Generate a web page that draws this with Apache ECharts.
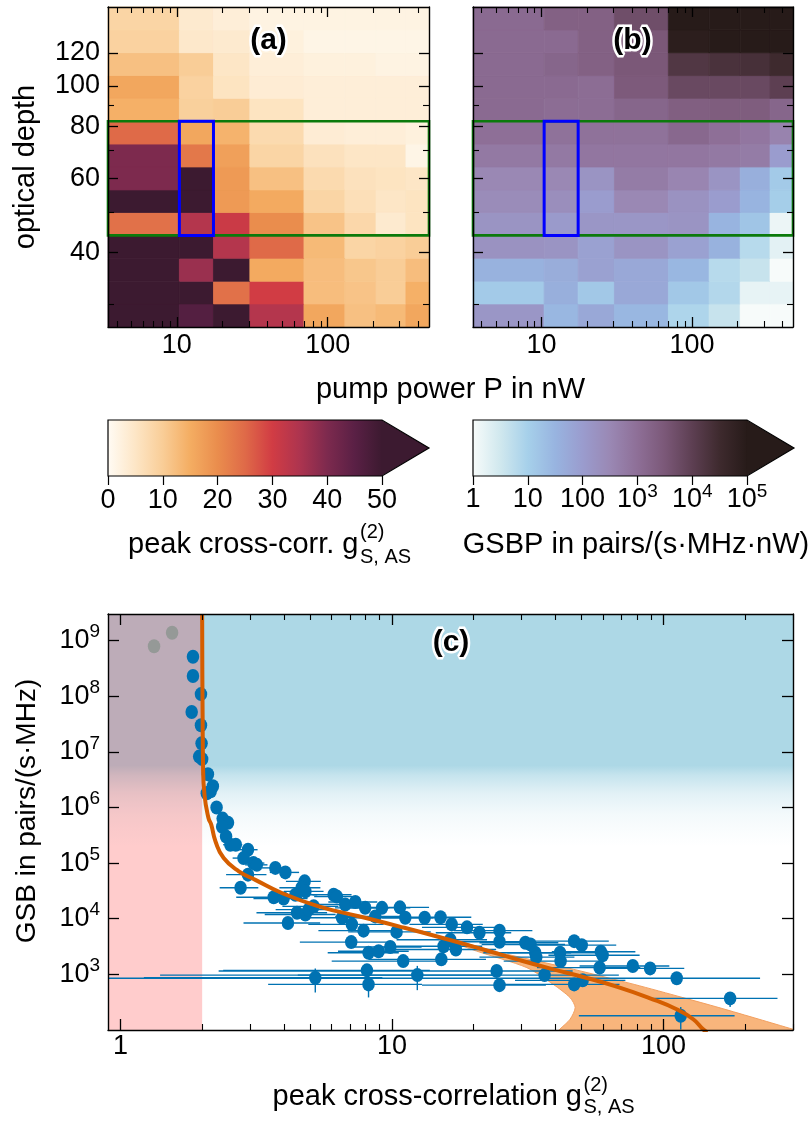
<!DOCTYPE html>
<html>
<head>
<meta charset="utf-8">
<script src="https://cdn.jsdelivr.net/npm/echarts@6/dist/echarts.min.js"></script>
<style>html,body{margin:0;padding:0;background:#fff}#chart{width:809px;height:1122px}</style>
</head>
<body>
<div id="chart"></div>
<script>
// ---------------- data ----------------
// pump power bin edges (nW) and optical-depth bin edges (rows, low -> high)
const powerEdges = [3.5, 10.4, 17.5, 30.5, 69.6, 130, 209, 330, 469];
const depthEdges = [26.5, 30.1, 34.1, 38.7, 43.9, 49.8, 56.4, 64.0, 72.6, 82.3, 93.4, 105.9, 120.1, 136.2, 154.5];
// (a) peak cross-correlation, rows from lowest optical depth upwards
const peakG = [
  [66, 46, 53, 34, 16, 12, 13, 16],
  [70, 58, 24, 30, 12.5, 11.5, 10, 14.5],
  [62, 37, 56, 15.5, 12.5, 11, 10, 12.5],
  [60, 65, 34, 25, 13, 8.5, 9, 10],
  [24, 34, 31, 20, 11.5, 8, 4, 5.5],
  [58, 55, 18, 15.5, 8.5, 6.5, 5, 5.5],
  [40, 52, 18, 12, 7.5, 6, 5.5, 5],
  [40, 23, 17, 8.5, 6, 5, 5, 1.5],
  [25, 16, 14, 7.5, 3.5, 3, 3, 2.5],
  [14.5, 9.5, 10, 5.5, 3, 3, 3, 3],
  [16, 9, 5.5, 3.5, 3, 3, 3, 3],
  [12, 10, 5, 3, 2.5, 2.5, 2, 2],
  [9, 4.5, 4, 2.5, 1.5, 1.5, 1.5, 1.5],
  [8.5, 4, 3, 2, 2, 2, 2, 2]
];
// (b) GSBP in pairs/(s MHz nW), rows from lowest optical depth upwards
const gsbp = [
  [140, 28, 56, 28, 8, 4, 1, 1],
  [12.6, 40, 14, 56, 14, 7, 1.6, 1.6],
  [35, 45, 80, 56, 28, 6.3, 4, 1],
  [178, 160, 80, 160, 80, 35, 6.3, 1.8],
  [160, 112, 141, 141, 160, 32, 16, 1.4],
  [250, 224, 100, 316, 178, 100, 32, 11],
  [316, 316, 160, 560, 355, 160, 40, 12.6],
  [630, 630, 710, 710, 710, 630, 560, 100],
  [1000, 890, 890, 890, 1410, 1000, 710, 400],
  [1260, 1120, 1120, 1580, 2240, 2510, 2510, 1580],
  [1260, 1260, 1120, 2820, 6300, 6300, 6300, 10000],
  [1260, 1580, 2000, 3160, 15800, 20000, 22400, 31600],
  [1260, 1260, 2000, 3160, 79000, 126000, 126000, 126000],
  [1260, 2000, 2000, 5000, 200000, 251000, 316000, 316000]
];
const selectedDepth = [43.9, 82.3];
const selectedPower = [10.4, 17.5];

// axis ticks
const powerTicks = [10, 100];
const powerMinor = [4, 5, 6, 7, 8, 9, 20, 30, 40, 50, 60, 70, 80, 90, 200, 300, 400];
const depthTicks = [40, 60, 80, 100, 120];
const depthMinor = [30, 50, 70, 90];
const gCbarTicks = [0, 10, 20, 30, 40, 50];
const gsbpCbarTicks = [1, 10, 100, 1e3, 1e4, 1e5];
const g2Ticks = [1, 10, 100];
const g2Minor = [2, 3, 4, 5, 6, 7, 8, 9, 20, 30, 40, 50, 60, 70, 80, 90, 200, 300];
const gsbTicks = [1e3, 1e4, 1e5, 1e6, 1e7, 1e8, 1e9];
const gRange = [0.9, 300];
const gsbRange = [100, 3e9];

// (c) measurements: [g2, GSB, sigma_g2, sigma_GSB]
const measured = [
  [1.85, 5.1e8, 0, 0], [1.85, 2.3e8, 0, 0], [1.98, 1.09e8, 0, 0], [1.83, 5.2e7, 0, 0],
  [1.98, 3.0e7, 0, 0], [1.99, 1.42e7, 0, 0], [1.95, 8.2e6, 0, 0], [2.00, 7.4e6, 0, 0],
  [2.10, 3.95e6, 0.02, 0], [2.19, 2.4e6, 0.03, 0], [2.08, 1.8e6, 0.03, 0], [2.15, 1.95e6, 0.03, 0],
  [2.26, 1.0e6, 0.04, 0], [2.38, 6.3e5, 0.05, 0], [2.49, 5.3e5, 0.06, 0], [2.37, 4.5e5, 0.1, 0],
  [2.45, 3.0e5, 0.1, 0], [2.54, 2.14e5, 0.15, 0], [2.66, 2.14e5, 0.15, 0], [2.95, 1.74e5, 0.25, 0],
  [2.84, 1.23e5, 0.25, 0], [3.09, 1.0e5, 0.3, 0], [3.18, 9.3e4, 0.3, 0], [2.95, 6.2e4, 0.5, 0],
  [2.77, 3.6e4, 0.45, 0], [3.72, 8.2e4, 0.4, 0], [4.05, 6.8e4, 0.5, 0], [3.67, 2.43e4, 1.0, 0],
  [3.99, 2.3e4, 0.9, 0], [4.77, 4.7e4, 0.7, 0], [4.65, 3.6e4, 0.8, 0], [4.80, 3.1e4, 0.8, 0],
  [4.41, 2.7e4, 0.9, 0], [4.14, 8.4e3, 1.3, 0], [4.47, 1.28e4, 1.3, 0], [4.80, 1.19e4, 1.4, 0],
  [4.93, 1.46e4, 1.2, 0], [5.15, 1.67e4, 1.2, 0], [5.22, 870, 4, 400], [6.10, 2.7e4, 1.0, 0],
  [6.27, 2.5e4, 1.1, 0], [6.73, 1.8e4, 1.6, 0], [7.33, 2.0e4, 1.5, 0], [7.97, 1.57e4, 1.8, 0],
  [6.55, 1.04e4, 2.0, 0], [7.12, 7.9e3, 2.2, 0], [7.86, 6.1e3, 2.5, 0], [7.08, 3.8e3, 2.5, 0],
  [8.20, 2.45e3, 2.4, 0], [8.93, 2.6e3, 2.6, 0], [9.86, 3.1e3, 3.0, 0], [9.19, 1.57e4, 2.5, 0],
  [8.68, 1.1e4, 2.5, 0], [8.09, 1.18e3, 5.7, 0], [8.20, 660, 4.7, 275], [10.7, 1.6e4, 3.0, 0],
  [11.2, 1.04e4, 3.0, 0], [10.4, 5.8e3, 3.5, 0], [11.0, 1.73e3, 5, 0], [12.4, 970, 11, 450],
  [13.2, 1.04e4, 4, 0], [15.1, 1.06e4, 4.5, 0], [15.5, 3.2e3, 6, 0], [15.2, 1.86e3, 7, 0],
  [16.6, 7.9e3, 5, 0], [18.9, 7.0e3, 6, 0], [21.0, 5.6e3, 6.5, 0], [24.9, 6.1e3, 8, 0],
  [24.9, 3.85e3, 9, 0], [17.2, 2.8e3, 7, 0], [16.4, 4.2e3, 6, 0], [24.3, 1.15e3, 22, 0],
  [24.9, 640, 12, 0], [31.0, 3.7e3, 10, 0], [32.4, 3.45e3, 11, 0], [33.7, 2.45e3, 12, 0],
  [34.0, 2.04e3, 13, 0], [36.5, 970, 32, 0], [41.6, 2.45e3, 15, 0], [41.8, 1.73e3, 16, 0],
  [46.9, 3.95e3, 16, 0], [50.0, 3.35e3, 17, 0], [46.9, 660, 22, 0], [50.4, 780, 22, 0],
  [58.8, 2.55e3, 20, 0], [59.7, 2.2e3, 22, 0], [58.2, 1.32e3, 24, 0], [77.1, 1.41e3, 28, 0],
  [89.3, 1.28e3, 30, 0], [111.9, 850, 115, 0], [176, 370, 87, 110], [115.8, 180, 67, 78]
];
const excluded = [[1.33, 7.9e8], [1.55, 1.38e9]];
// theory curve and its uncertainty band
const theoryG   = [2.0, 2.003, 2.008, 2.015, 2.04, 2.11, 2.16, 2.24, 2.40, 2.73, 3.14, 3.93, 5.37, 7.54, 10.6, 16.1, 21.7, 28.9, 38.1, 50.6, 67.2, 89.3, 111.8, 128.7, 140, 145];
const theoryGSB = [3e9, 3e8, 4.6e7, 5.75e6, 1.68e6, 6.46e5, 4.9e5, 2.45e5, 1.23e5, 7.1e4, 5.0e4, 2.9e4, 1.67e4, 1.11e4, 7.3e3, 4.24e3, 2.8e3, 1.86e3, 1.28e3, 895, 603, 372, 236, 156, 103, 90];
const bandGSB  = [6000, 5000, 4240, 2620, 1320, 660, 382, 253, 156, 103, 90];
const bandLow  = [12.9, 14.0, 15.6, 20.5, 31.4, 39.3, 45.3, 47.3, 45.3, 41.5, 40.5];
const bandHigh = [12.9, 14.6, 16.8, 23.7, 44.0, 78, 118, 160, 225, 300, 330];
const classicalLimit = 2;          // g2 below this: classical region
const blueFadeTop = 5.7e6;         // GSB: solid blue above
const blueFadeBottom = 2.0e5;      // GSB: fade ends

// colour maps
const cmapG = ['#fffbf4', '#fde6c6', '#f9cd97', '#f4ad62', '#ea8d4d', '#df6a48', '#d13c44', '#ad344f', '#7d2a4e', '#5a2045', '#3c1a30'];
const cmapGSBP = ['#f7fbfa', '#d0e8ee', '#a6d0ea', '#98b4e0', '#9a9cce', '#9a88b4', '#8e6f97', '#7b5878', '#5d3f52', '#3e2a2e', '#271b19'];

// ---------------- chart ----------------
const FONT = "'Liberation Sans', Arial, Helvetica, sans-serif";
const L = Math.log10;
const BLUE = '#0072B2';

const grids = [
  {left: 108, top: 7, width: 321, height: 320},
  {left: 473, top: 7, width: 320, height: 320},
  {left: 108, top: 420, width: 274, height: 56},
  {left: 473, top: 420, width: 274, height: 56},
  {left: 108, top: 614, width: 685, height: 416}
];

const xAxes = [], yAxes = [];
function addAxis(list, grid, pos, min, max, major, minor, label, lens) {
  const idx = list.length;
  list.push({
    type: 'value', gridIndex: grid, position: pos, min: min, max: max, z: 10,
    axisLine: {show: true, onZero: false, lineStyle: {color: '#000', width: 1.4}},
    axisTick: {show: true, inside: true, length: lens[0], customValues: major, lineStyle: {color: '#000', width: 1.3}},
    axisLabel: label ? Object.assign({show: true, customValues: major}, label) : {show: false},
    splitLine: {show: false}
  });
  if (minor && minor.length) {
    list.push({
      type: 'value', gridIndex: grid, position: pos, min: min, max: max, z: 10,
      axisLine: {show: false, onZero: false},
      axisTick: {show: true, inside: true, length: lens[1], customValues: minor, lineStyle: {color: '#000', width: 1.1}},
      axisLabel: {show: false}, splitLine: {show: false}
    });
  }
  return idx;
}
const fmtPlain = v => String(Math.round(Math.pow(10, v)));
const fmtPow = v => { const e = Math.round(v); return e === 0 ? '{b|1}' : e === 1 ? '{b|10}' : e === 2 ? '{b|100}' : '{b|10}{s|' + e + '}'; };
const richPow = {
  b: {fontSize: 27, fontFamily: FONT, color: '#000', lineHeight: 36},
  s: {fontSize: 19, fontFamily: FONT, color: '#000', lineHeight: 19, verticalAlign: 'top'}
};
const lab = (extra) => Object.assign({fontSize: 27, fontFamily: FONT, color: '#000'}, extra);

const pMin = L(powerEdges[0]), pMax = L(powerEdges[powerEdges.length - 1]);
const dMin = L(depthEdges[0]), dMax = L(depthEdges[depthEdges.length - 1]);
const pT = powerTicks.map(L), pM = powerMinor.map(L), dT = depthTicks.map(L), dM = depthMinor.map(L);

const aX = addAxis(xAxes, 0, 'bottom', pMin, pMax, pT, pM, lab({margin: 5, formatter: fmtPlain}), [10, 6]);
addAxis(xAxes, 0, 'top', pMin, pMax, pT, pM, null, [10, 6]);
const aY = addAxis(yAxes, 0, 'left', dMin, dMax, dT, dM, lab({margin: 8, formatter: fmtPlain}), [10, 6]);
addAxis(yAxes, 0, 'right', dMin, dMax, dT, dM, null, [10, 6]);

const bX = addAxis(xAxes, 1, 'bottom', pMin, pMax, pT, pM, lab({margin: 5, formatter: fmtPlain}), [10, 6]);
addAxis(xAxes, 1, 'top', pMin, pMax, pT, pM, null, [10, 6]);
const bY = addAxis(yAxes, 1, 'left', dMin, dMax, dT, dM, null, [10, 6]);
addAxis(yAxes, 1, 'right', dMin, dMax, dT, dM, null, [10, 6]);

// colourbars
const caX = xAxes.length;
xAxes.push({type: 'value', gridIndex: 2, position: 'bottom', min: 0, max: 50, z: 10,
  axisLine: {show: false, onZero: false},
  axisTick: {show: true, inside: false, length: 9, customValues: gCbarTicks, lineStyle: {color: '#000', width: 1.2}},
  axisLabel: lab({show: true, customValues: gCbarTicks, margin: 11, formatter: v => String(Math.round(v))}),
  splitLine: {show: false}});
const caY = yAxes.length;
yAxes.push({type: 'value', gridIndex: 2, min: 0, max: 1, show: false});
const cbT = gsbpCbarTicks.map(L);
const cbX = xAxes.length;
xAxes.push({type: 'value', gridIndex: 3, position: 'bottom', min: 0, max: 5, z: 10,
  axisLine: {show: false, onZero: false},
  axisTick: {show: true, inside: false, length: 9, customValues: cbT, lineStyle: {color: '#000', width: 1.2}},
  axisLabel: {show: true, customValues: cbT, margin: 6, formatter: fmtPow, rich: richPow},
  splitLine: {show: false}});
const cbY = yAxes.length;
yAxes.push({type: 'value', gridIndex: 3, min: 0, max: 1, show: false});

// panel (c)
const gMinL = L(gRange[0]), gMaxL = L(gRange[1]), sMinL = L(gsbRange[0]), sMaxL = L(gsbRange[1]);
const cX = addAxis(xAxes, 4, 'bottom', gMinL, gMaxL, g2Ticks.map(L), g2Minor.map(L), lab({margin: 3, formatter: fmtPlain}), [11, 6]);
addAxis(xAxes, 4, 'top', gMinL, gMaxL, g2Ticks.map(L), g2Minor.map(L), null, [11, 6]);
const cY = addAxis(yAxes, 4, 'left', sMinL, sMaxL, gsbTicks.map(L), [], {margin: 8, formatter: fmtPow, rich: richPow}, [11, 6]);
addAxis(yAxes, 4, 'right', sMinL, sMaxL, gsbTicks.map(L), [], null, [11, 6]);

// heatmap cells
const cellsA = [], cellsB = [];
for (let r = 0; r < depthEdges.length - 1; r++) {
  for (let c = 0; c < powerEdges.length - 1; c++) {
    const box = [L(powerEdges[c]), L(powerEdges[c + 1]), L(depthEdges[r]), L(depthEdges[r + 1])];
    cellsA.push(box.concat([Math.min(peakG[r][c], 50), peakG[r][c]]));
    cellsB.push(box.concat([Math.max(0, Math.min(L(gsbp[r][c]), 5)), gsbp[r][c]]));
  }
}
function cellItem(params, api) {
  const a = api.coord([api.value(0), api.value(3)]);
  const b = api.coord([api.value(1), api.value(2)]);
  const col = api.visual('color');
  return {type: 'rect', shape: {x: a[0], y: a[1], width: b[0] - a[0], height: b[1] - a[1]},
    style: {fill: col, stroke: col, lineWidth: 0.8}};
}
const boxes = [
  [L(powerEdges[0]), L(powerEdges[powerEdges.length - 1]), L(selectedDepth[0]), L(selectedDepth[1])],
  [L(selectedPower[0]), L(selectedPower[1]), L(selectedDepth[0]), L(selectedDepth[1])]
];
const boxStyles = [{stroke: '#0b7a0b', lineWidth: 2.6}, {stroke: '#0000ff', lineWidth: 3}];
function boxItem(params, api) {
  const a = api.coord([api.value(0), api.value(3)]);
  const b = api.coord([api.value(1), api.value(2)]);
  const s = boxStyles[params.dataIndex];
  return {type: 'rect', shape: {x: a[0], y: a[1], width: b[0] - a[0], height: b[1] - a[1]},
    style: {fill: 'none', stroke: s.stroke, lineWidth: s.lineWidth}};
}
function cbarItem(cmap) {
  return function (params, api) {
    const p0 = api.coord([api.value(0), 0]), p1 = api.coord([api.value(1), 1]);
    const x0 = p0[0], yb = p0[1], x1 = p1[0], yt = p1[1];
    const tip = x1 + (x1 - x0) * 0.1715, ym = (yt + yb) / 2;
    const stops = cmap.map((c, i) => ({offset: i / (cmap.length - 1), color: c}));
    return {type: 'group', children: [
      {type: 'rect', shape: {x: x0, y: yt, width: x1 - x0, height: yb - yt},
        style: {fill: {type: 'linear', x: 0, y: 0, x2: 1, y2: 0, colorStops: stops}}},
      {type: 'polygon', shape: {points: [[x1 - 0.5, yt], [tip, ym], [x1 - 0.5, yb]]}, style: {fill: cmap[cmap.length - 1]}},
      {type: 'polygon', shape: {points: [[x0, yt], [x1, yt], [tip, ym], [x1, yb], [x0, yb]]},
        style: {fill: 'none', stroke: '#000', lineWidth: 1.2}}
    ]};
  };
}

// (c) background zones
const zones = [
  [gRange[0], gRange[1], blueFadeTop, gsbRange[1]],
  [gRange[0], gRange[1], blueFadeBottom, blueFadeTop],
  [gRange[0], classicalLimit, gsbRange[0], gsbRange[1]]
].map(z => [L(z[0]), L(z[1]), L(z[2]), L(z[3])]);
const zoneFill = [
  '#add8e6',
  {type: 'linear', x: 0, y: 0, x2: 0, y2: 1, colorStops: [
    {offset: 0, color: 'rgba(173,216,230,1)'}, {offset: 0.12, color: 'rgba(173,216,230,0.7)'},
    {offset: 0.35, color: 'rgba(173,216,230,0.35)'}, {offset: 0.6, color: 'rgba(173,216,230,0.15)'},
    {offset: 0.82, color: 'rgba(173,216,230,0.06)'}, {offset: 1, color: 'rgba(173,216,230,0)'}]},
  'rgba(255,0,0,0.2)'
];
function zoneItem(params, api) {
  const a = api.coord([api.value(0), api.value(3)]);
  const b = api.coord([api.value(1), api.value(2)]);
  return {type: 'rect', shape: {x: a[0], y: a[1], width: b[0] - a[0], height: b[1] - a[1] + (params.dataIndex === 0 ? 0.5 : 0)},
    style: {fill: zoneFill[params.dataIndex]}};
}
function bandItem(params, api) {
  const pts = [];
  for (let i = 0; i < bandGSB.length; i++) pts.push(api.coord([L(bandHigh[i]), L(bandGSB[i])]));
  for (let i = bandGSB.length - 1; i >= 0; i--) pts.push(api.coord([L(bandLow[i]), L(bandGSB[i])]));
  const cs = params.coordSys;
  return {type: 'group', clipPath: {type: 'rect', shape: {x: cs.x, y: cs.y, width: cs.width, height: cs.height}},
    children: [{type: 'polygon', shape: {points: pts, smooth: 0.25}, style: {fill: '#f8b57c', stroke: '#f3a060', lineWidth: 1}}]};
}
const errData = measured.map(p => [
  L(p[0]), L(p[1]),
  L(Math.max(p[0] - p[2], gRange[0] * 0.5)), L(p[0] + p[2]),
  L(Math.max(p[1] - p[3], gsbRange[0] * 0.5)), L(p[1] + p[3])
]);
function errItem(params, api) {
  const c = api.coord([api.value(0), api.value(1)]);
  const kids = [];
  const lo = api.coord([api.value(2), api.value(1)]), hi = api.coord([api.value(3), api.value(1)]);
  if (hi[0] - lo[0] > 0.5) kids.push({type: 'line', shape: {x1: lo[0], y1: c[1], x2: hi[0], y2: c[1]}, style: {stroke: BLUE, lineWidth: 1.4}});
  const vl = api.coord([api.value(0), api.value(4)]), vh = api.coord([api.value(0), api.value(5)]);
  if (vl[1] - vh[1] > 0.5) kids.push({type: 'line', shape: {x1: c[0], y1: vl[1], x2: c[0], y2: vh[1]}, style: {stroke: BLUE, lineWidth: 1.4}});
  const cs = params.coordSys;
  return {type: 'group', clipPath: {type: 'rect', shape: {x: cs.x, y: cs.y, width: cs.width, height: cs.height}}, children: kids};
}

const series = [
  {type: 'custom', xAxisIndex: aX, yAxisIndex: aY, data: cellsA, renderItem: cellItem, z: 1, silent: true, encode: {x: [0, 1], y: [2, 3]}},
  {type: 'custom', xAxisIndex: bX, yAxisIndex: bY, data: cellsB, renderItem: cellItem, z: 1, silent: true, encode: {x: [0, 1], y: [2, 3]}},
  {type: 'custom', xAxisIndex: aX, yAxisIndex: aY, data: boxes, renderItem: boxItem, z: 5, silent: true},
  {type: 'custom', xAxisIndex: bX, yAxisIndex: bY, data: boxes, renderItem: boxItem, z: 5, silent: true},
  {type: 'custom', xAxisIndex: caX, yAxisIndex: caY, data: [[0, 50]], renderItem: cbarItem(cmapG), z: 5, silent: true},
  {type: 'custom', xAxisIndex: cbX, yAxisIndex: cbY, data: [[0, 5]], renderItem: cbarItem(cmapGSBP), z: 5, silent: true},
  {type: 'custom', xAxisIndex: cX, yAxisIndex: cY, data: zones, renderItem: zoneItem, z: 1, silent: true, clip: true},
  {type: 'custom', xAxisIndex: cX, yAxisIndex: cY, data: [[0, 0]], renderItem: bandItem, z: 2, silent: true, clip: true},
  {type: 'custom', xAxisIndex: cX, yAxisIndex: cY, data: errData, renderItem: errItem, z: 3, silent: true, clip: true},
  {type: 'scatter', xAxisIndex: cX, yAxisIndex: cY, data: excluded.map(p => [L(p[0]), L(p[1])]),
    symbol: 'circle', symbolSize: [12.5, 14], itemStyle: {color: '#959997', opacity: 1}, z: 4, silent: true},
  {type: 'scatter', xAxisIndex: cX, yAxisIndex: cY, data: measured.map(p => [L(p[0]), L(p[1])]),
    symbol: 'circle', symbolSize: [12.5, 14], itemStyle: {color: BLUE, opacity: 1}, z: 4, silent: true},
  {type: 'line', xAxisIndex: cX, yAxisIndex: cY, data: theoryG.map((g, i) => [L(g), L(theoryGSB[i])]),
    showSymbol: false, smooth: 0.5, lineStyle: {color: '#D55E00', width: 4}, z: 5, silent: true, clip: true}
];

// text elements
function txt(x, y, text, size, o) {
  o = o || {};
  const font = (o.bold ? 'bold ' : '') + size + 'px ' + FONT;
  const align = o.align || 'center', va = o.va || 'middle';
  return {type: 'text', x: x, y: y, rotation: o.rot || 0, z: 100, silent: true,
    style: {text: text, font: font, fill: o.fill || '#000', stroke: o.stroke, lineWidth: o.lw || 0,
      align: align, verticalAlign: va, textAlign: align, textVerticalAlign: va}};
}
function panelLabel(x, y, t) {
  return [txt(x, y, t, 30, {bold: true, fill: '#fff', stroke: '#fff', lw: 5}), txt(x, y, t, 30, {bold: true})];
}
const graphics = [].concat(
  panelLabel(268.5, 41, '(a)'), panelLabel(632.5, 41, '(b)'), panelLabel(451, 643, '(c)'),
  [
    txt(26, 167, 'optical depth', 29, {rot: Math.PI / 2}),
    txt(450.5, 390, 'pump power P in nW', 29),
    txt(358.5, 545, 'peak cross-corr. g', 29, {align: 'right'}),
    txt(360, 532, '(2)', 20, {align: 'left'}),
    txt(360, 557, 'S, AS', 20, {align: 'left'}),
    txt(636, 545, 'GSBP in pairs/(s\u00b7MHz\u00b7nW)', 29),
    txt(27, 811, 'GSB in pairs/(s\u00b7MHz)', 28, {rot: Math.PI / 2}),
    txt(582, 1097, 'peak cross-correlation g', 29, {align: 'right'}),
    txt(583.5, 1085, '(2)', 20, {align: 'left'}),
    txt(583.5, 1107, 'S, AS', 20, {align: 'left'})
  ]
);

const chart = echarts.init(document.getElementById('chart'), null, {renderer: 'canvas', width: 809, height: 1122});
chart.setOption({
  animation: false,
  backgroundColor: '#fff',
  textStyle: {fontFamily: FONT},
  grid: grids,
  xAxis: xAxes,
  yAxis: yAxes,
  visualMap: [
    {type: 'continuous', show: false, min: 0, max: 50, dimension: 4, seriesIndex: 0, inRange: {color: cmapG}},
    {type: 'continuous', show: false, min: 0, max: 5, dimension: 4, seriesIndex: 1, inRange: {color: cmapGSBP}}
  ],
  series: series,
  graphic: graphics
});
</script>
</body>
</html>
